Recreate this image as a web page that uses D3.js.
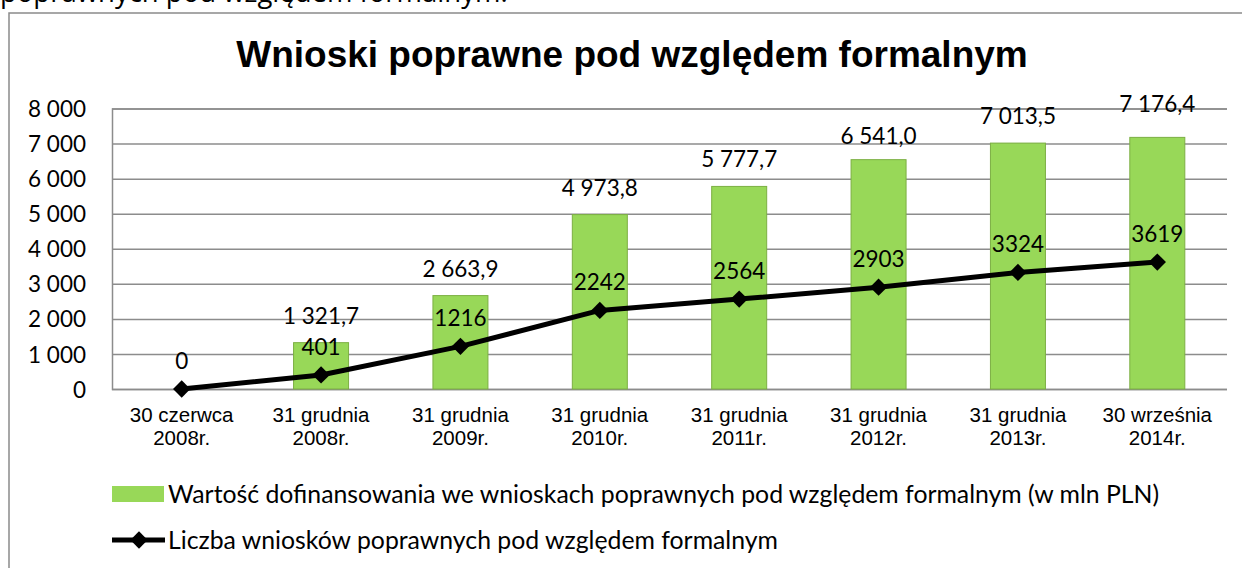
<!DOCTYPE html>
<html><head><meta charset="utf-8">
<script src="https://cdn.jsdelivr.net/npm/d3@7"></script>
<style>html,body{margin:0;padding:0;background:#fff;}svg{display:block;}</style>
</head><body>
<svg id="c" width="1242" height="568"></svg>
<script>
const categories = [["30 czerwca","2008r."],["31 grudnia","2008r."],["31 grudnia","2009r."],["31 grudnia","2010r."],["31 grudnia","2011r."],["31 grudnia","2012r."],["31 grudnia","2013r."],["30 września","2014r."]];
const barValues = [null, 1321.7, 2663.9, 4973.8, 5777.7, 6541.0, 7013.5, 7176.4];
const lineValues = [0, 401, 1216, 2242, 2564, 2903, 3324, 3619];
const yTicks = [0,1000,2000,3000,4000,5000,6000,7000,8000];
const title = "Wnioski poprawne pod względem formalnym";
const barSeriesName = "Wartość dofinansowania we wnioskach poprawnych pod względem formalnym (w mln PLN)";
const lineSeriesName = "Liczba wniosków poprawnych pod względem formalnym";
const topText = "poprawnych pod względem formalnym.";
// label nudges (px), layout only
const barLabelNudge = [0, 0, 0, 0, 0, 3, 0, -6];

const svg = d3.select("#c");
const L = 112, R = 1227, T = 108.5, B = 389;
const keys = categories.map((c,i)=>i);
const x = d3.scaleBand().domain(keys).range([L,R]).padding(0);
const y = d3.scaleLinear().domain([0,8000]).range([B,T]);
const cx = i => x(i) + x.bandwidth()/2;
const barW = 55;
const grid = "#8c8c8c";

svg.append("text").attr("x",0).attr("y",2).attr("font-family","Open Sans").attr("font-size",27.5).attr("fill","#000").text(topText);
svg.append("rect").attr("x",9).attr("y",13).attr("width",1260).attr("height",620).attr("fill","none").attr("stroke","#8a8a8a").attr("stroke-width",1.5);

svg.append("text").attr("x",632).attr("y",67).attr("text-anchor","middle").attr("font-family","Liberation Sans, Arial").attr("font-weight","bold").attr("font-size",37).text(title);

// gridlines & y axis
const yAxis = d3.axisLeft(y).tickValues(yTicks).tickSize(-(R-L)).tickPadding(26);
const ga = svg.append("g").attr("transform",`translate(${L},0)`).call(yAxis);
ga.select(".domain").attr("stroke",grid).attr("stroke-width",1.5);
ga.selectAll(".tick line").attr("stroke",grid).attr("stroke-width",1.5);
ga.selectAll(".tick text").attr("font-family","Lato").attr("font-size",22.5).attr("fill","#000").attr("dy","0.36em")
  .text(d => d3.format(",")(d).replace(/,/g," "));

// bars
svg.append("g").selectAll("rect").data(barValues.map((v,i)=>({v,i})).filter(d=>d.v!==null)).join("rect")
  .attr("x",d=>cx(d.i)-barW/2).attr("y",d=>y(d.v)).attr("width",barW).attr("height",d=>B-y(d.v))
  .attr("fill","#98d858").attr("stroke","#7caf43").attr("stroke-width",1);

// bar labels
const fmtBar = v => d3.format(",.1f")(v).replace(/,/g," ").replace(".",",");
svg.append("g").selectAll("text").data(barValues.map((v,i)=>({v,i})).filter(d=>d.v!==null)).join("text")
  .attr("x",d=>cx(d.i)).attr("y",d=>y(d.v)-19+barLabelNudge[d.i]).attr("text-anchor","middle")
  .attr("font-family","Lato").attr("font-size",22.5).text(d=>fmtBar(d.v));

// line
const line = d3.line().x((d,i)=>cx(i)).y(d=>y(d));
svg.append("path").datum(lineValues).attr("d",line).attr("fill","none").attr("stroke","#000").attr("stroke-width",5).attr("stroke-linejoin","round");
const sym = d3.symbol().type(d3.symbolSquare).size(150);
svg.append("g").selectAll("path").data(lineValues).join("path")
  .attr("d",sym).attr("transform",(d,i)=>`translate(${cx(i)},${y(d)}) rotate(45)`).attr("fill","#000");
svg.append("g").selectAll("text").data(lineValues).join("text")
  .attr("x",(d,i)=>cx(i)).attr("y",d=>y(d)-20).attr("text-anchor","middle")
  .attr("font-family","Lato").attr("font-size",22.5).text(d=>d);

// category labels
const cg = svg.append("g").selectAll("text").data(categories).join("text")
  .attr("text-anchor","middle").attr("font-family","Liberation Sans, Arial").attr("font-size",20.5);
cg.each(function(c,i){
  const t = d3.select(this);
  t.append("tspan").attr("x",cx(i)).attr("y",421.5).text(c[0]);
  t.append("tspan").attr("x",cx(i)).attr("y",445).text(c[1]);
});

// legend
svg.append("rect").attr("x",112).attr("y",486).attr("width",52).attr("height",16).attr("fill","#98d858");
svg.append("text").attr("x",168).attr("y",503).attr("font-family","Lato").attr("font-size",24.8).text(barSeriesName);
svg.append("line").attr("x1",112).attr("x2",165).attr("y1",540).attr("y2",540).attr("stroke","#000").attr("stroke-width",5);
svg.append("path").attr("d",sym).attr("transform","translate(139,540) rotate(45)").attr("fill","#000");
svg.append("text").attr("x",168).attr("y",549).attr("font-family","Lato").attr("font-size",24.8).text(lineSeriesName);
</script>
</body></html>
